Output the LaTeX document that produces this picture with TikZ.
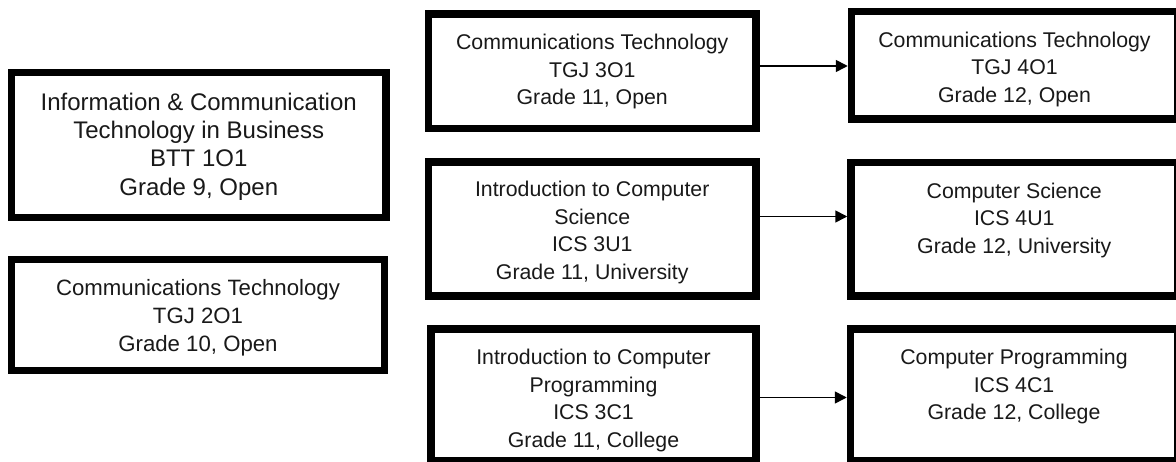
\documentclass[tikz,border=0pt]{standalone}
\usepackage{fontspec}
\setmainfont{Liberation Sans}
\usetikzlibrary{arrows.meta,calc}
\tikzset{
  box/.style={draw=black, line width=7.5pt, rectangle, inner sep=0pt},
  txt/.style={anchor=north, align=center, inner sep=0pt, text=black!90, font=\fontsize{21.3}{27.5}\selectfont},
  txtbig/.style={txt, font=\fontsize{24}{28.3}\selectfont},
  txtmid/.style={txt, font=\fontsize{22.2}{28}\selectfont},
  arr/.style={draw=black, line width=1.6pt, -{Triangle[length=12pt,width=12pt]}}
}
\begin{document}
\begin{tikzpicture}[x=1pt,y=-1pt]
\useasboundingbox (0,0) rectangle (1176,462);
\fill[white] (0,0) rectangle (1176,462);
% left column
\node[box, minimum width=374.5pt, minimum height=145pt] (b1) at (198.75,145) {};
\node[txtbig] (t1) at ([yshift=-24pt]b1.north) {Information \& Communication\\Technology in Business\\BTT 1O1\\Grade 9, Open};
\node[box, minimum width=373pt, minimum height=111pt] (b2) at (198,315) {};
\node[txtmid] (t2) at ([yshift=-23pt]b2.north) {Communications Technology\\TGJ 2O1\\Grade 10, Open};
% middle column
\node[box, minimum width=327.5pt, minimum height=114.5pt] (b3) at (592.25,71.25) {};
\node[txt] (t3) at ([yshift=-24pt]b3.north) {Communications Technology\\TGJ 3O1\\Grade 11, Open};
\node[box, minimum width=327.5pt, minimum height=134pt] (b5) at (592.25,229) {};
\node[txt] (t5) at ([yshift=-23pt]b5.north) {Introduction to Computer\\Science\\ICS 3U1\\Grade 11, University};
\node[box, minimum width=325pt, minimum height=131.5pt] (b7) at (593.5,394.75) {};
\node[txt] (t7) at ([yshift=-24pt]b7.north) {Introduction to Computer\\Programming\\ICS 3C1\\Grade 11, College};
% right column
\node[box, minimum width=326pt, minimum height=107.5pt] (b4) at (1014.5,65.25) {};
\node[txt] (t4) at ([yshift=-24pt]b4.north) {Communications Technology\\TGJ 4O1\\Grade 12, Open};
\node[box, minimum width=326.5pt, minimum height=133.5pt] (b6) at (1014.25,229.25) {};
\node[txt] (t6) at ([yshift=-24pt]b6.north) {Computer Science\\ICS 4U1\\Grade 12, University};
\node[box, minimum width=327pt, minimum height=131.5pt] (b8) at (1014,394.75) {};
\node[txt] (t8) at ([yshift=-24pt]b8.north) {Computer Programming\\ICS 4C1\\Grade 12, College};
% arrows
\draw[arr] ([yshift=5.25pt]b3.east) -- ([yshift=5.25pt]b3.east -| b4.west);
\draw[arr] ([yshift=12.5pt]b5.east) -- ([yshift=12.5pt]b5.east -| b6.west);
\draw[arr] ([yshift=-2.75pt]b7.east) -- ([yshift=-2.75pt]b7.east -| b8.west);
\end{tikzpicture}
\end{document}
